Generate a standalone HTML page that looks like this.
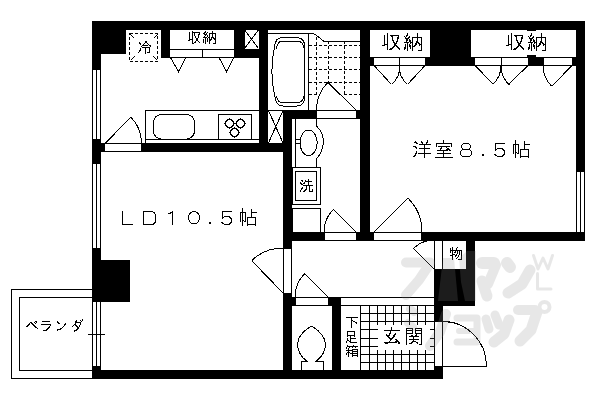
<!DOCTYPE html>
<html><head><meta charset="utf-8"><style>
html,body{margin:0;padding:0;background:#fff;width:600px;height:400px;overflow:hidden}
svg{display:block}
</style></head><body>
<svg width="600" height="400" viewBox="0 0 600 400">
<rect width="600" height="400" fill="#fff"/>
<g shape-rendering="crispEdges" fill="none" stroke="#000" stroke-width="1">
<rect x="92" y="21" width="493" height="9" fill="#000" stroke="none"/>
<rect x="92" y="21" width="34" height="33" fill="#000" stroke="none"/>
<rect x="92" y="21" width="9" height="49" fill="#000" stroke="none"/>
<rect x="161" y="30" width="9" height="28" fill="#000" stroke="none"/>
<rect x="234" y="30" width="10" height="28" fill="#000" stroke="none"/>
<rect x="244" y="49" width="15" height="9" fill="#000" stroke="none"/>
<rect x="259" y="30" width="9" height="121" fill="#000" stroke="none"/>
<rect x="101" y="143" width="4" height="9" fill="#000" stroke="none"/>
<rect x="141" y="143" width="142" height="9" fill="#000" stroke="none"/>
<rect x="92" y="139" width="9" height="25" fill="#000" stroke="none"/>
<rect x="283" y="110" width="34" height="9" fill="#000" stroke="none"/>
<rect x="356" y="110" width="14" height="9" fill="#000" stroke="none"/>
<rect x="283" y="110" width="9" height="139" fill="#000" stroke="none"/>
<rect x="283" y="293" width="9" height="85" fill="#000" stroke="none"/>
<rect x="360" y="30" width="10" height="211" fill="#000" stroke="none"/>
<rect x="292" y="232" width="33" height="9" fill="#000" stroke="none"/>
<rect x="356" y="232" width="18" height="9" fill="#000" stroke="none"/>
<rect x="421" y="232" width="164" height="9" fill="#000" stroke="none"/>
<rect x="576" y="21" width="9" height="151" fill="#000" stroke="none"/>
<rect x="430" y="21" width="41" height="45" fill="#000" stroke="none"/>
<rect x="369" y="57" width="5" height="9" fill="#000" stroke="none"/>
<rect x="425" y="57" width="5" height="9" fill="#000" stroke="none"/>
<rect x="470" y="57" width="4" height="9" fill="#000" stroke="none"/>
<rect x="528" y="57" width="15" height="9" fill="#000" stroke="none"/>
<rect x="572" y="57" width="4" height="9" fill="#000" stroke="none"/>
<rect x="527" y="55" width="9" height="2" fill="#000" stroke="none"/>
<rect x="92" y="248" width="9" height="54" fill="#000" stroke="none"/>
<rect x="92" y="260" width="38" height="42" fill="#000" stroke="none"/>
<rect x="92" y="366" width="9" height="13" fill="#000" stroke="none"/>
<rect x="92" y="370" width="351" height="9" fill="#000" stroke="none"/>
<rect x="292" y="297" width="4" height="9" fill="#000" stroke="none"/>
<rect x="328" y="297" width="13" height="9" fill="#000" stroke="none"/>
<rect x="332" y="305" width="9" height="73" fill="#000" stroke="none"/>
<rect x="466" y="240" width="9" height="66" fill="#000" stroke="none"/>
<rect x="434" y="269" width="41" height="37" fill="#000" stroke="none"/>
<rect x="434" y="306" width="9" height="16" fill="#000" stroke="none"/>
<rect x="434" y="366" width="9" height="12" fill="#000" stroke="none"/>
<rect x="92" y="70" width="1" height="69" fill="#000" stroke="none"/>
<rect x="96" y="70" width="1" height="69" fill="#000" stroke="none"/>
<rect x="100" y="70" width="1" height="69" fill="#000" stroke="none"/>
<rect x="92" y="164" width="1" height="84" fill="#000" stroke="none"/>
<rect x="96" y="164" width="1" height="84" fill="#000" stroke="none"/>
<rect x="100" y="164" width="1" height="84" fill="#000" stroke="none"/>
<rect x="92" y="302" width="1" height="64" fill="#000" stroke="none"/>
<rect x="96" y="302" width="1" height="64" fill="#000" stroke="none"/>
<rect x="100" y="302" width="1" height="64" fill="#000" stroke="none"/>
<rect x="576" y="172" width="1" height="60" fill="#000" stroke="none"/>
<rect x="580" y="172" width="1" height="60" fill="#000" stroke="none"/>
<rect x="584" y="172" width="1" height="60" fill="#000" stroke="none"/>
<rect x="88" y="334" width="17" height="1" fill="#000" stroke="none"/>
<rect x="11" y="289" width="81" height="1" fill="#000" stroke="none"/>
<rect x="11" y="378" width="81" height="1" fill="#000" stroke="none"/>
<rect x="11" y="289" width="1" height="90" fill="#000" stroke="none"/>
<rect x="19" y="297" width="73" height="1" fill="#000" stroke="none"/>
<rect x="19" y="370" width="73" height="1" fill="#000" stroke="none"/>
<rect x="19" y="297" width="1" height="74" fill="#000" stroke="none"/>
<rect x="129.5" y="33.5" width="28" height="27.5" fill="none" stroke-dasharray="3 2"/>
<line x1="130.5" y1="34.5" x2="134.5" y2="38.5"/>
<line x1="157.5" y1="34.5" x2="153.5" y2="38.5"/>
<line x1="130.5" y1="60.5" x2="134.5" y2="56.5"/>
<line x1="157.5" y1="60.5" x2="153.5" y2="56.5"/>
<rect x="170" y="49" width="64" height="1" fill="#000" stroke="none"/>
<rect x="170" y="57" width="64" height="1" fill="#000" stroke="none"/>
<rect x="202" y="49" width="1" height="8" fill="#000" stroke="none"/>
<rect x="244" y="30" width="1" height="19" fill="#000" stroke="none"/>
<line x1="244.5" y1="30" x2="258.5" y2="48.5"/>
<line x1="258.5" y1="30" x2="244.5" y2="48.5"/>
<path d="M170.5 57.5L178.5 71.5L186 57.5"/>
<path d="M219 57.5L226.5 71.5L234 57.5"/>
<rect x="145" y="110" width="115" height="1" fill="#000" stroke="none"/>
<rect x="145" y="139" width="115" height="1" fill="#000" stroke="none"/>
<rect x="145" y="110" width="1" height="33" fill="#000" stroke="none"/>
<rect x="153.5" y="114.5" width="41" height="24.5" rx="8" ry="8" fill="none"/>
<rect x="218.5" y="114.5" width="33" height="24.5" fill="none"/>
<path d="M225.5 122.0L228.0 119.5H231.0L233.5 122.0V125.0L231.0 127.5H228.0L225.5 125.0Z"/>
<line x1="224.0" y1="123.5" x2="225.5" y2="123.5"/>
<line x1="233.5" y1="123.5" x2="235.0" y2="123.5"/>
<line x1="229.5" y1="118.0" x2="229.5" y2="119.5"/>
<line x1="229.5" y1="127.5" x2="229.5" y2="129.0"/>
<path d="M236.5 122.0L239.0 119.5H242.0L244.5 122.0V125.0L242.0 127.5H239.0L236.5 125.0Z"/>
<line x1="235.0" y1="123.5" x2="236.5" y2="123.5"/>
<line x1="244.5" y1="123.5" x2="246.0" y2="123.5"/>
<line x1="240.5" y1="118.0" x2="240.5" y2="119.5"/>
<line x1="240.5" y1="127.5" x2="240.5" y2="129.0"/>
<path d="M230.5 131.0L233.0 128.5H236.0L238.5 131.0V134.0L236.0 136.5H233.0L230.5 134.0Z"/>
<line x1="229.0" y1="132.5" x2="230.5" y2="132.5"/>
<line x1="238.5" y1="132.5" x2="240.0" y2="132.5"/>
<line x1="234.5" y1="127.0" x2="234.5" y2="128.5"/>
<line x1="234.5" y1="136.5" x2="234.5" y2="138.0"/>
<rect x="105" y="143" width="36" height="1" fill="#000" stroke="none"/>
<rect x="105" y="151" width="36" height="1" fill="#000" stroke="none"/>
<line x1="105.5" y1="143" x2="130.5" y2="117.5"/>
<path d="M130.81 117.19A36.5 36.5 0 0 1 141.50 143.00"/>
<rect x="268" y="110" width="15" height="1" fill="#000" stroke="none"/>
<line x1="268.5" y1="110.5" x2="283" y2="143"/>
<line x1="283" y1="110.5" x2="268.5" y2="143"/>
<path d="M268 33.5H312Q315 33.5 318 36.5L324 41.5H360"/>
<rect x="308" y="33" width="1" height="77" fill="#000" stroke="none"/>
<path d="M274.5 47Q275 37.5 283 37.5H297Q304.5 38 304.5 46V97Q304.5 106 297 106H283Q276 106 275 97Q269 72 274.5 47Z"/>
<path d="M276.5 49Q277 41 283 41H297Q303.5 41.5 303.5 48M303.5 96Q303.5 102.5 297 102.5H283Q277 102.5 276.5 96"/>
<path d="M309 45.5H360" stroke-dasharray="3 2"/>
<path d="M309 57.5H360" stroke-dasharray="3 2"/>
<path d="M309 69.5H360" stroke-dasharray="3 2"/>
<path d="M309 82.5H360" stroke-dasharray="3 2"/>
<path d="M309 94.5H317" stroke-dasharray="3 2"/>
<path d="M344 94.5H360" stroke-dasharray="3 2"/>
<path d="M316.5 37V94.5" stroke-dasharray="3 2"/>
<path d="M328.5 41V82.5" stroke-dasharray="3 2"/>
<path d="M344.5 41V94.5" stroke-dasharray="3 2"/>
<line x1="328" y1="82.5" x2="356" y2="110"/>
<path d="M328.07 82.07A39.5 39.5 0 0 0 316.50 110.00"/>
<rect x="316" y="110" width="40" height="1" fill="#000" stroke="none"/>
<rect x="316" y="118" width="40" height="1" fill="#000" stroke="none"/>
<rect x="295" y="118" width="1" height="50" fill="#000" stroke="none"/>
<rect x="316" y="118" width="1" height="8" fill="#000" stroke="none"/>
<rect x="316" y="158" width="1" height="10" fill="#000" stroke="none"/>
<path d="M316.5 126Q325 134 323 145Q322 153 316.5 158.5"/>
<ellipse cx="308.6" cy="142.75" rx="8.6" ry="12.75" fill="none"/>
<rect x="295" y="139" width="5" height="1" fill="#000" stroke="none"/>
<rect x="295" y="143" width="5" height="1" fill="#000" stroke="none"/>
<rect x="316" y="118" width="44" height="1" fill="#000" stroke="none"/>
<rect x="292" y="167" width="29" height="1" fill="#000" stroke="none"/>
<rect x="292" y="204" width="29" height="1" fill="#000" stroke="none"/>
<rect x="292" y="167" width="1" height="38" fill="#000" stroke="none"/>
<rect x="320" y="167" width="1" height="38" fill="#000" stroke="none"/>
<rect x="295" y="171" width="22" height="1" fill="#000" stroke="none"/>
<rect x="295" y="200" width="22" height="1" fill="#000" stroke="none"/>
<rect x="295" y="171" width="1" height="30" fill="#000" stroke="none"/>
<rect x="316" y="171" width="1" height="30" fill="#000" stroke="none"/>
<rect x="292" y="208" width="29" height="1" fill="#000" stroke="none"/>
<rect x="292" y="232" width="29" height="1" fill="#000" stroke="none"/>
<rect x="292" y="208" width="1" height="25" fill="#000" stroke="none"/>
<rect x="320" y="208" width="1" height="25" fill="#000" stroke="none"/>
<rect x="324" y="232" width="32" height="1" fill="#000" stroke="none"/>
<rect x="324" y="240" width="32" height="1" fill="#000" stroke="none"/>
<line x1="356" y1="232" x2="333" y2="209"/>
<path d="M333.37 209.37A32 32 0 0 0 324.00 232.00"/>
<rect x="374" y="232" width="47" height="1" fill="#000" stroke="none"/>
<rect x="374" y="240" width="47" height="1" fill="#000" stroke="none"/>
<line x1="374" y1="232" x2="408" y2="198"/>
<path d="M407.94 198.06A48 48 0 0 1 422.00 232.00"/>
<rect x="369" y="29" width="62" height="1" fill="#000" stroke="none"/>
<rect x="369" y="57" width="62" height="1" fill="#000" stroke="none"/>
<rect x="369" y="29" width="1" height="29" fill="#000" stroke="none"/>
<rect x="430" y="29" width="1" height="29" fill="#000" stroke="none"/>
<rect x="373" y="57" width="53" height="1" fill="#000" stroke="none"/>
<rect x="373" y="65" width="53" height="1" fill="#000" stroke="none"/>
<rect x="373" y="57" width="1" height="9" fill="#000" stroke="none"/>
<rect x="425" y="57" width="1" height="9" fill="#000" stroke="none"/>
<rect x="399" y="57" width="1" height="9" fill="#000" stroke="none"/>
<rect x="470" y="29" width="107" height="1" fill="#000" stroke="none"/>
<rect x="470" y="57" width="107" height="1" fill="#000" stroke="none"/>
<rect x="470" y="29" width="1" height="29" fill="#000" stroke="none"/>
<rect x="576" y="29" width="1" height="29" fill="#000" stroke="none"/>
<rect x="474" y="57" width="55" height="1" fill="#000" stroke="none"/>
<rect x="474" y="65" width="55" height="1" fill="#000" stroke="none"/>
<rect x="474" y="57" width="1" height="9" fill="#000" stroke="none"/>
<rect x="528" y="57" width="1" height="9" fill="#000" stroke="none"/>
<rect x="501" y="57" width="1" height="9" fill="#000" stroke="none"/>
<rect x="543" y="57" width="30" height="1" fill="#000" stroke="none"/>
<rect x="543" y="65" width="30" height="1" fill="#000" stroke="none"/>
<rect x="543" y="57" width="1" height="9" fill="#000" stroke="none"/>
<rect x="572" y="57" width="1" height="9" fill="#000" stroke="none"/>
<line x1="374" y1="65.5" x2="391.5" y2="84.5"/>
<path d="M391.73 84.52A26 26 0 0 0 400.00 65.50"/>
<line x1="425" y1="65.5" x2="407.5" y2="84.5"/>
<path d="M407.27 84.52A26 26 0 0 1 399.00 65.50"/>
<line x1="475" y1="65.5" x2="493.5" y2="84.5"/>
<path d="M492.73 84.52A26 26 0 0 0 501.00 65.50"/>
<line x1="528" y1="65.5" x2="508.5" y2="84.5"/>
<path d="M509.59 85.25A27 27 0 0 1 501.00 65.50"/>
<line x1="572" y1="65.5" x2="552" y2="86"/>
<path d="M551.49 86.01A29 29 0 0 1 543.00 65.50"/>
<rect x="527" y="29" width="9" height="2" fill="#000" stroke="none"/>
<rect x="283" y="249" width="1" height="44" fill="#000" stroke="none"/>
<rect x="291" y="249" width="1" height="44" fill="#000" stroke="none"/>
<line x1="283" y1="293" x2="252" y2="261"/>
<path d="M251.74 260.63A45 45 0 0 1 283.00 248.00"/>
<rect x="442" y="240" width="25" height="1" fill="#000" stroke="none"/>
<rect x="442" y="269" width="25" height="1" fill="#000" stroke="none"/>
<rect x="442" y="240" width="1" height="30" fill="#000" stroke="none"/>
<rect x="466" y="240" width="1" height="30" fill="#000" stroke="none"/>
<rect x="434" y="240" width="1" height="29" fill="#000" stroke="none"/>
<line x1="434" y1="269" x2="413.5" y2="248.5"/>
<path d="M413.49 248.49A29 29 0 0 1 428.96 240.44"/>
<rect x="296" y="297" width="32" height="1" fill="#000" stroke="none"/>
<rect x="296" y="305" width="32" height="1" fill="#000" stroke="none"/>
<line x1="328" y1="297" x2="305" y2="274"/>
<path d="M304.67 273.67A33 33 0 0 0 295.00 297.00"/>
<path d="M311.5 326Q298 334 297.5 344Q297.5 354 306.5 361H301.5V370M311.5 326Q325 334 325.5 344Q325.5 354 316.5 361H323.5V370"/>
<rect x="341" y="297" width="93" height="1" fill="#000" stroke="none"/>
<rect x="341" y="305" width="93" height="1" fill="#000" stroke="none"/>
<rect x="360" y="305" width="1" height="65" fill="#000" stroke="none"/>
<rect x="434" y="321" width="1" height="45" fill="#000" stroke="none"/>
<rect x="442" y="321" width="1" height="45" fill="#000" stroke="none"/>
<rect x="443" y="366" width="44" height="1" fill="#000" stroke="none"/>
<path d="M443 321.5A43.5 44.5 0 0 1 486.5 366"/>
<rect x="360" y="305" width="74" height="1" fill="#000" stroke="none"/>
<rect x="369" y="305" width="1" height="65" fill="#000" stroke="none"/>
<rect x="377" y="305" width="1" height="20" fill="#000" stroke="none"/>
<rect x="377" y="350" width="1" height="20" fill="#000" stroke="none"/>
<rect x="385" y="305" width="1" height="20" fill="#000" stroke="none"/>
<rect x="385" y="350" width="1" height="20" fill="#000" stroke="none"/>
<rect x="393" y="305" width="1" height="20" fill="#000" stroke="none"/>
<rect x="393" y="350" width="1" height="20" fill="#000" stroke="none"/>
<rect x="401" y="305" width="1" height="20" fill="#000" stroke="none"/>
<rect x="401" y="350" width="1" height="20" fill="#000" stroke="none"/>
<rect x="409" y="305" width="1" height="20" fill="#000" stroke="none"/>
<rect x="409" y="350" width="1" height="20" fill="#000" stroke="none"/>
<rect x="417" y="305" width="1" height="20" fill="#000" stroke="none"/>
<rect x="417" y="350" width="1" height="20" fill="#000" stroke="none"/>
<rect x="425" y="305" width="1" height="20" fill="#000" stroke="none"/>
<rect x="425" y="350" width="1" height="20" fill="#000" stroke="none"/>
<rect x="360" y="313" width="74" height="1" fill="#000" stroke="none"/>
<rect x="360" y="321" width="74" height="1" fill="#000" stroke="none"/>
<rect x="360" y="329" width="18" height="1" fill="#000" stroke="none"/>
<rect x="430" y="329" width="4" height="1" fill="#000" stroke="none"/>
<rect x="360" y="338" width="18" height="1" fill="#000" stroke="none"/>
<rect x="430" y="338" width="4" height="1" fill="#000" stroke="none"/>
<rect x="360" y="346" width="18" height="1" fill="#000" stroke="none"/>
<rect x="430" y="346" width="4" height="1" fill="#000" stroke="none"/>
<rect x="360" y="354" width="74" height="1" fill="#000" stroke="none"/>
<rect x="360" y="362" width="74" height="1" fill="#000" stroke="none"/>
<rect x="122" y="211" width="1" height="14" fill="#000" stroke="none"/>
<rect x="122" y="224" width="11" height="1" fill="#000" stroke="none"/>
<path d="M143.5 211.5V224.5H151Q155.5 224.5 155.5 220V216Q155.5 211.5 151 211.5Z"/>
<rect x="172" y="211" width="1" height="14" fill="#000" stroke="none"/>
<path d="M167.5 213.5H170L172.5 211.5"/>
<ellipse cx="194" cy="217.75" rx="5.5" ry="6.3" fill="none"/>
<rect x="209" y="222" width="2" height="2" fill="#000" stroke="none"/>
<path d="M232 211.5H222.5V218Q224 216.5 227 216.5Q231.5 216.5 231.5 220.5Q231.5 224.5 227 224.5Q223 224.5 221.5 222"/>
<rect x="461.5" y="143.5" width="9" height="6" rx="3.5" ry="3" fill="none"/>
<rect x="460.5" y="149.5" width="11" height="7" rx="4" ry="3.5" fill="none"/>
<rect x="482" y="154" width="2" height="2" fill="#000" stroke="none"/>
<path d="M505 143.5H495.5V150Q497 148.5 500 148.5Q504.5 148.5 504.5 152.5Q504.5 156.5 500 156.5Q496 156.5 494.5 154"/>
</g>
<path fill="#000" shape-rendering="crispEdges" d="M145 41h2v1h-2zM139 42h1v1h-1zM145 42h2v1h-2zM139 43h2v1h-2zM144 43h1v1h-1zM147 43h1v1h-1zM140 44h1v1h-1zM143 44h1v1h-1zM148 44h1v1h-1zM142 45h6v1h-6zM149 45h2v1h-2zM141 46h1v1h-1zM150 46h1v1h-1zM142 47h8v1h-8zM140 48h1v1h-1zM145 48h1v1h-1zM149 48h1v1h-1zM140 49h1v1h-1zM145 49h1v1h-1zM149 49h1v1h-1zM139 50h2v1h-2zM145 50h1v1h-1zM149 50h1v1h-1zM139 51h1v1h-1zM145 51h1v1h-1zM149 51h1v1h-1zM138 52h1v1h-1zM145 52h1v1h-1zM147 52h3v1h-3zM145 53h1v1h-1zM192 31h1v1h-1zM189 32h1v1h-1zM192 32h8v1h-8zM189 33h1v1h-1zM192 33h1v1h-1zM194 33h1v1h-1zM199 33h1v1h-1zM189 34h1v1h-1zM192 34h1v1h-1zM194 34h1v1h-1zM198 34h2v1h-2zM189 35h1v1h-1zM192 35h1v1h-1zM194 35h1v1h-1zM198 35h1v1h-1zM189 36h1v1h-1zM192 36h1v1h-1zM195 36h1v1h-1zM198 36h1v1h-1zM189 37h1v1h-1zM192 37h1v1h-1zM195 37h1v1h-1zM198 37h1v1h-1zM189 38h1v1h-1zM192 38h1v1h-1zM196 38h2v1h-2zM189 39h4v1h-4zM196 39h2v1h-2zM188 40h2v1h-2zM192 40h1v1h-1zM196 40h2v1h-2zM192 41h1v1h-1zM195 41h1v1h-1zM198 41h1v1h-1zM192 42h1v1h-1zM194 42h2v1h-2zM199 42h1v1h-1zM192 43h2v1h-2zM205 31h1v1h-1zM212 31h1v1h-1zM204 32h2v1h-2zM207 32h1v1h-1zM212 32h1v1h-1zM203 33h2v1h-2zM206 33h1v1h-1zM209 33h7v1h-7zM204 34h3v1h-3zM209 34h1v1h-1zM212 34h1v1h-1zM215 34h1v1h-1zM205 35h1v1h-1zM207 35h1v1h-1zM209 35h1v1h-1zM212 35h1v1h-1zM215 35h1v1h-1zM204 36h1v1h-1zM207 36h1v1h-1zM209 36h1v1h-1zM212 36h1v1h-1zM215 36h1v1h-1zM203 37h4v1h-4zM208 37h2v1h-2zM211 37h3v1h-3zM215 37h1v1h-1zM205 38h1v1h-1zM207 38h1v1h-1zM209 38h1v1h-1zM211 38h1v1h-1zM213 38h3v1h-3zM203 39h1v1h-1zM205 39h1v1h-1zM207 39h1v1h-1zM209 39h3v1h-3zM214 39h2v1h-2zM203 40h1v1h-1zM205 40h1v1h-1zM207 40h1v1h-1zM209 40h2v1h-2zM215 40h1v1h-1zM203 41h1v1h-1zM205 41h1v1h-1zM207 41h1v1h-1zM209 41h1v1h-1zM215 41h1v1h-1zM203 42h1v1h-1zM205 42h1v1h-1zM209 42h1v1h-1zM215 42h1v1h-1zM205 43h1v1h-1zM209 43h1v1h-1zM213 43h3v1h-3zM387 33h1v1h-1zM387 34h1v1h-1zM384 35h1v1h-1zM387 35h1v1h-1zM390 35h9v1h-9zM384 36h1v1h-1zM387 36h1v1h-1zM391 36h2v1h-2zM398 36h1v1h-1zM384 37h1v1h-1zM387 37h1v1h-1zM392 37h1v1h-1zM397 37h2v1h-2zM384 38h1v1h-1zM387 38h1v1h-1zM392 38h1v1h-1zM397 38h2v1h-2zM384 39h1v1h-1zM387 39h1v1h-1zM392 39h1v1h-1zM397 39h1v1h-1zM384 40h1v1h-1zM387 40h1v1h-1zM392 40h2v1h-2zM397 40h1v1h-1zM384 41h1v1h-1zM387 41h1v1h-1zM393 41h1v1h-1zM396 41h2v1h-2zM384 42h1v1h-1zM387 42h1v1h-1zM393 42h2v1h-2zM396 42h1v1h-1zM384 43h1v1h-1zM387 43h1v1h-1zM394 43h3v1h-3zM384 44h4v1h-4zM394 44h2v1h-2zM382 45h3v1h-3zM387 45h1v1h-1zM394 45h3v1h-3zM387 46h1v1h-1zM393 46h2v1h-2zM396 46h2v1h-2zM387 47h1v1h-1zM392 47h2v1h-2zM397 47h2v1h-2zM387 48h1v1h-1zM390 48h3v1h-3zM398 48h2v1h-2zM387 49h1v1h-1zM389 49h3v1h-3zM399 49h1v1h-1zM407 33h1v1h-1zM417 33h1v1h-1zM407 34h1v1h-1zM417 34h1v1h-1zM406 35h2v1h-2zM417 35h1v1h-1zM404 36h1v1h-1zM406 36h1v1h-1zM409 36h1v1h-1zM417 36h1v1h-1zM405 37h1v1h-1zM408 37h2v1h-2zM412 37h10v1h-10zM405 38h4v1h-4zM412 38h1v1h-1zM417 38h1v1h-1zM421 38h1v1h-1zM406 39h2v1h-2zM409 39h1v1h-1zM412 39h1v1h-1zM417 39h1v1h-1zM421 39h1v1h-1zM406 40h2v1h-2zM409 40h2v1h-2zM412 40h1v1h-1zM417 40h1v1h-1zM421 40h1v1h-1zM406 41h1v1h-1zM409 41h2v1h-2zM412 41h1v1h-1zM416 41h2v1h-2zM421 41h1v1h-1zM404 42h5v1h-5zM410 42h3v1h-3zM416 42h3v1h-3zM421 42h1v1h-1zM407 43h1v1h-1zM410 43h1v1h-1zM412 43h1v1h-1zM415 43h2v1h-2zM418 43h2v1h-2zM421 43h1v1h-1zM405 44h1v1h-1zM407 44h1v1h-1zM409 44h1v1h-1zM412 44h1v1h-1zM415 44h2v1h-2zM419 44h3v1h-3zM405 45h1v1h-1zM407 45h1v1h-1zM409 45h2v1h-2zM412 45h1v1h-1zM414 45h2v1h-2zM419 45h1v1h-1zM421 45h1v1h-1zM405 46h1v1h-1zM407 46h1v1h-1zM409 46h2v1h-2zM412 46h3v1h-3zM421 46h1v1h-1zM404 47h2v1h-2zM407 47h1v1h-1zM410 47h1v1h-1zM412 47h1v1h-1zM421 47h1v1h-1zM404 48h2v1h-2zM407 48h1v1h-1zM410 48h1v1h-1zM412 48h1v1h-1zM421 48h1v1h-1zM404 49h1v1h-1zM407 49h1v1h-1zM412 49h1v1h-1zM421 49h1v1h-1zM407 50h1v1h-1zM412 50h1v1h-1zM418 50h4v1h-4zM511 33h1v1h-1zM511 34h1v1h-1zM508 35h1v1h-1zM511 35h1v1h-1zM514 35h9v1h-9zM508 36h1v1h-1zM511 36h1v1h-1zM515 36h2v1h-2zM522 36h1v1h-1zM508 37h1v1h-1zM511 37h1v1h-1zM516 37h1v1h-1zM521 37h2v1h-2zM508 38h1v1h-1zM511 38h1v1h-1zM516 38h1v1h-1zM521 38h2v1h-2zM508 39h1v1h-1zM511 39h1v1h-1zM516 39h1v1h-1zM521 39h1v1h-1zM508 40h1v1h-1zM511 40h1v1h-1zM516 40h2v1h-2zM521 40h1v1h-1zM508 41h1v1h-1zM511 41h1v1h-1zM517 41h1v1h-1zM520 41h2v1h-2zM508 42h1v1h-1zM511 42h1v1h-1zM517 42h2v1h-2zM520 42h1v1h-1zM508 43h1v1h-1zM511 43h1v1h-1zM518 43h3v1h-3zM508 44h4v1h-4zM518 44h2v1h-2zM506 45h3v1h-3zM511 45h1v1h-1zM518 45h3v1h-3zM511 46h1v1h-1zM517 46h2v1h-2zM520 46h2v1h-2zM511 47h1v1h-1zM516 47h2v1h-2zM521 47h2v1h-2zM511 48h1v1h-1zM514 48h3v1h-3zM522 48h2v1h-2zM511 49h1v1h-1zM513 49h3v1h-3zM523 49h1v1h-1zM531 33h1v1h-1zM541 33h1v1h-1zM531 34h1v1h-1zM541 34h1v1h-1zM530 35h2v1h-2zM541 35h1v1h-1zM528 36h1v1h-1zM530 36h1v1h-1zM533 36h1v1h-1zM541 36h1v1h-1zM529 37h1v1h-1zM532 37h2v1h-2zM536 37h10v1h-10zM529 38h4v1h-4zM536 38h1v1h-1zM541 38h1v1h-1zM545 38h1v1h-1zM530 39h2v1h-2zM533 39h1v1h-1zM536 39h1v1h-1zM541 39h1v1h-1zM545 39h1v1h-1zM530 40h2v1h-2zM533 40h2v1h-2zM536 40h1v1h-1zM541 40h1v1h-1zM545 40h1v1h-1zM530 41h1v1h-1zM533 41h2v1h-2zM536 41h1v1h-1zM540 41h2v1h-2zM545 41h1v1h-1zM528 42h5v1h-5zM534 42h3v1h-3zM540 42h3v1h-3zM545 42h1v1h-1zM531 43h1v1h-1zM534 43h1v1h-1zM536 43h1v1h-1zM539 43h2v1h-2zM542 43h2v1h-2zM545 43h1v1h-1zM529 44h1v1h-1zM531 44h1v1h-1zM533 44h1v1h-1zM536 44h1v1h-1zM539 44h2v1h-2zM543 44h3v1h-3zM529 45h1v1h-1zM531 45h1v1h-1zM533 45h2v1h-2zM536 45h1v1h-1zM538 45h2v1h-2zM543 45h1v1h-1zM545 45h1v1h-1zM529 46h1v1h-1zM531 46h1v1h-1zM533 46h2v1h-2zM536 46h3v1h-3zM545 46h1v1h-1zM528 47h2v1h-2zM531 47h1v1h-1zM534 47h1v1h-1zM536 47h1v1h-1zM545 47h1v1h-1zM528 48h2v1h-2zM531 48h1v1h-1zM534 48h1v1h-1zM536 48h1v1h-1zM545 48h1v1h-1zM528 49h1v1h-1zM531 49h1v1h-1zM536 49h1v1h-1zM545 49h1v1h-1zM531 50h1v1h-1zM536 50h1v1h-1zM542 50h4v1h-4zM308 179h1v1h-1zM301 180h2v1h-2zM305 180h1v1h-1zM308 180h1v1h-1zM302 181h1v1h-1zM305 181h7v1h-7zM300 182h1v1h-1zM304 182h1v1h-1zM308 182h1v1h-1zM300 183h2v1h-2zM303 183h2v1h-2zM308 183h1v1h-1zM301 184h2v1h-2zM308 184h1v1h-1zM303 185h10v1h-10zM306 186h1v1h-1zM309 186h1v1h-1zM302 187h1v1h-1zM306 187h1v1h-1zM309 187h1v1h-1zM301 188h2v1h-2zM306 188h1v1h-1zM309 188h1v1h-1zM301 189h1v1h-1zM305 189h2v1h-2zM309 189h1v1h-1zM312 189h1v1h-1zM300 190h1v1h-1zM304 190h2v1h-2zM309 190h1v1h-1zM312 190h1v1h-1zM300 191h1v1h-1zM303 191h2v1h-2zM309 191h4v1h-4zM427 140h1v1h-1zM415 141h1v1h-1zM421 141h1v1h-1zM427 141h1v1h-1zM414 142h3v1h-3zM421 142h2v1h-2zM426 142h2v1h-2zM416 143h2v1h-2zM422 143h1v1h-1zM426 143h1v1h-1zM419 144h12v1h-12zM424 145h1v1h-1zM413 146h3v1h-3zM424 146h1v1h-1zM415 147h2v1h-2zM424 147h1v1h-1zM416 148h1v1h-1zM419 148h11v1h-11zM424 149h1v1h-1zM424 150h1v1h-1zM416 151h1v1h-1zM424 151h1v1h-1zM416 152h1v1h-1zM424 152h1v1h-1zM415 153h2v1h-2zM418 153h13v1h-13zM415 154h1v1h-1zM424 154h1v1h-1zM414 155h2v1h-2zM424 155h1v1h-1zM413 156h2v1h-2zM424 156h1v1h-1zM424 157h1v1h-1zM443 140h1v1h-1zM443 141h1v1h-1zM443 142h1v1h-1zM436 143h16v1h-16zM436 144h1v1h-1zM451 144h1v1h-1zM436 145h1v1h-1zM451 145h1v1h-1zM436 146h1v1h-1zM438 146h12v1h-12zM451 146h1v1h-1zM441 147h1v1h-1zM446 147h1v1h-1zM440 148h2v1h-2zM447 148h2v1h-2zM440 149h1v1h-1zM446 149h4v1h-4zM437 150h11v1h-11zM449 150h2v1h-2zM443 151h1v1h-1zM443 152h1v1h-1zM437 153h14v1h-14zM443 154h1v1h-1zM443 155h1v1h-1zM443 156h1v1h-1zM435 157h18v1h-18zM515 140h1v1h-1zM515 141h1v1h-1zM524 141h1v1h-1zM515 142h1v1h-1zM524 142h1v1h-1zM515 143h1v1h-1zM524 143h1v1h-1zM513 144h6v1h-6zM524 144h6v1h-6zM513 145h1v1h-1zM515 145h1v1h-1zM518 145h1v1h-1zM524 145h1v1h-1zM513 146h1v1h-1zM515 146h1v1h-1zM518 146h1v1h-1zM524 146h1v1h-1zM513 147h1v1h-1zM515 147h1v1h-1zM518 147h1v1h-1zM524 147h1v1h-1zM513 148h1v1h-1zM515 148h1v1h-1zM518 148h1v1h-1zM524 148h1v1h-1zM513 149h1v1h-1zM515 149h1v1h-1zM518 149h1v1h-1zM520 149h9v1h-9zM513 150h1v1h-1zM515 150h1v1h-1zM518 150h1v1h-1zM520 150h1v1h-1zM528 150h1v1h-1zM513 151h1v1h-1zM515 151h1v1h-1zM518 151h1v1h-1zM520 151h1v1h-1zM528 151h1v1h-1zM513 152h1v1h-1zM515 152h2v1h-2zM518 152h1v1h-1zM520 152h1v1h-1zM528 152h1v1h-1zM513 153h1v1h-1zM515 153h1v1h-1zM517 153h2v1h-2zM520 153h1v1h-1zM528 153h1v1h-1zM515 154h1v1h-1zM520 154h1v1h-1zM528 154h1v1h-1zM515 155h1v1h-1zM520 155h1v1h-1zM528 155h1v1h-1zM515 156h1v1h-1zM520 156h9v1h-9zM515 157h1v1h-1zM520 157h1v1h-1zM528 157h1v1h-1zM242 208h1v1h-1zM242 209h1v1h-1zM251 209h1v1h-1zM242 210h1v1h-1zM251 210h1v1h-1zM242 211h1v1h-1zM251 211h1v1h-1zM240 212h6v1h-6zM251 212h6v1h-6zM240 213h1v1h-1zM242 213h1v1h-1zM245 213h1v1h-1zM251 213h1v1h-1zM240 214h1v1h-1zM242 214h1v1h-1zM245 214h1v1h-1zM251 214h1v1h-1zM240 215h1v1h-1zM242 215h1v1h-1zM245 215h1v1h-1zM251 215h1v1h-1zM240 216h1v1h-1zM242 216h1v1h-1zM245 216h1v1h-1zM251 216h1v1h-1zM240 217h1v1h-1zM242 217h1v1h-1zM245 217h1v1h-1zM247 217h9v1h-9zM240 218h1v1h-1zM242 218h1v1h-1zM245 218h1v1h-1zM247 218h1v1h-1zM255 218h1v1h-1zM240 219h1v1h-1zM242 219h1v1h-1zM245 219h1v1h-1zM247 219h1v1h-1zM255 219h1v1h-1zM240 220h1v1h-1zM242 220h2v1h-2zM245 220h1v1h-1zM247 220h1v1h-1zM255 220h1v1h-1zM240 221h1v1h-1zM242 221h1v1h-1zM244 221h2v1h-2zM247 221h1v1h-1zM255 221h1v1h-1zM242 222h1v1h-1zM247 222h1v1h-1zM255 222h1v1h-1zM242 223h1v1h-1zM247 223h1v1h-1zM255 223h1v1h-1zM242 224h1v1h-1zM247 224h9v1h-9zM242 225h1v1h-1zM247 225h1v1h-1zM255 225h1v1h-1zM452 247h1v1h-1zM457 247h1v1h-1zM450 248h1v1h-1zM452 248h1v1h-1zM456 248h1v1h-1zM450 249h1v1h-1zM452 249h1v1h-1zM456 249h1v1h-1zM450 250h12v1h-12zM450 251h1v1h-1zM452 251h1v1h-1zM455 251h1v1h-1zM457 251h1v1h-1zM459 251h1v1h-1zM461 251h1v1h-1zM450 252h1v1h-1zM452 252h1v1h-1zM454 252h2v1h-2zM457 252h1v1h-1zM459 252h1v1h-1zM461 252h1v1h-1zM452 253h1v1h-1zM457 253h1v1h-1zM459 253h1v1h-1zM461 253h1v1h-1zM452 254h3v1h-3zM456 254h1v1h-1zM459 254h1v1h-1zM461 254h1v1h-1zM450 255h3v1h-3zM455 255h2v1h-2zM458 255h1v1h-1zM461 255h1v1h-1zM452 256h1v1h-1zM455 256h1v1h-1zM458 256h1v1h-1zM461 256h1v1h-1zM452 257h1v1h-1zM457 257h1v1h-1zM461 257h1v1h-1zM452 258h1v1h-1zM456 258h1v1h-1zM461 258h1v1h-1zM452 259h1v1h-1zM458 259h4v1h-4zM35 321h2v1h-2zM30 322h2v1h-2zM34 322h1v1h-1zM36 322h1v1h-1zM29 323h1v1h-1zM31 323h2v1h-2zM35 323h1v1h-1zM28 324h2v1h-2zM32 324h2v1h-2zM27 325h2v1h-2zM33 325h2v1h-2zM26 326h2v1h-2zM34 326h2v1h-2zM35 327h2v1h-2zM37 328h1v1h-1zM42 321h8v1h-8zM41 324h10v1h-10zM50 325h1v1h-1zM49 326h1v1h-1zM48 327h2v1h-2zM47 328h2v1h-2zM46 329h2v1h-2zM43 330h4v1h-4zM57 321h1v1h-1zM57 322h2v1h-2zM58 323h2v1h-2zM65 323h1v1h-1zM64 324h2v1h-2zM64 325h1v1h-1zM63 326h1v1h-1zM62 327h1v1h-1zM60 328h2v1h-2zM57 329h4v1h-4zM57 330h1v1h-1zM82 319h1v1h-1zM76 320h1v1h-1zM80 320h1v1h-1zM82 320h1v1h-1zM75 321h2v1h-2zM81 321h1v1h-1zM75 322h6v1h-6zM75 323h1v1h-1zM80 323h1v1h-1zM74 324h2v1h-2zM80 324h1v1h-1zM73 325h1v1h-1zM75 325h2v1h-2zM79 325h1v1h-1zM72 326h1v1h-1zM76 326h2v1h-2zM79 326h1v1h-1zM77 327h2v1h-2zM77 328h2v1h-2zM76 329h2v1h-2zM74 330h3v1h-3zM74 331h1v1h-1zM346 317h12v1h-12zM351 318h1v1h-1zM351 319h1v1h-1zM351 320h2v1h-2zM351 321h1v1h-1zM353 321h2v1h-2zM351 322h1v1h-1zM355 322h2v1h-2zM351 323h1v1h-1zM356 323h1v1h-1zM351 324h1v1h-1zM351 325h1v1h-1zM351 326h1v1h-1zM351 327h1v1h-1zM347 331h8v1h-8zM347 332h1v1h-1zM354 332h1v1h-1zM347 333h1v1h-1zM354 333h1v1h-1zM347 334h1v1h-1zM354 334h1v1h-1zM347 335h8v1h-8zM347 336h1v1h-1zM350 336h1v1h-1zM354 336h1v1h-1zM350 337h1v1h-1zM347 338h1v1h-1zM350 338h6v1h-6zM347 339h1v1h-1zM350 339h1v1h-1zM347 340h2v1h-2zM350 340h1v1h-1zM346 341h1v1h-1zM349 341h2v1h-2zM346 342h1v1h-1zM350 342h7v1h-7zM347 345h1v1h-1zM353 345h1v1h-1zM347 346h11v1h-11zM346 347h1v1h-1zM349 347h1v1h-1zM352 347h1v1h-1zM355 347h1v1h-1zM346 348h1v1h-1zM348 348h1v1h-1zM348 349h1v1h-1zM352 349h6v1h-6zM346 350h7v1h-7zM357 350h1v1h-1zM348 351h1v1h-1zM352 351h6v1h-6zM347 352h3v1h-3zM352 352h1v1h-1zM357 352h1v1h-1zM346 353h1v1h-1zM348 353h1v1h-1zM350 353h8v1h-8zM346 354h1v1h-1zM348 354h1v1h-1zM352 354h1v1h-1zM357 354h1v1h-1zM348 355h1v1h-1zM352 355h6v1h-6zM348 356h1v1h-1zM352 356h1v1h-1zM357 356h1v1h-1zM391 327h1v1h-1zM391 328h1v1h-1zM391 329h1v1h-1zM384 330h16v1h-16zM390 331h1v1h-1zM390 332h1v1h-1zM389 333h2v1h-2zM395 333h1v1h-1zM386 334h1v1h-1zM389 334h1v1h-1zM394 334h2v1h-2zM386 335h4v1h-4zM393 335h2v1h-2zM387 336h2v1h-2zM393 336h2v1h-2zM388 337h2v1h-2zM392 337h2v1h-2zM389 338h4v1h-4zM390 339h2v1h-2zM395 339h2v1h-2zM390 340h1v1h-1zM396 340h2v1h-2zM389 341h1v1h-1zM395 341h4v1h-4zM384 342h13v1h-13zM398 342h2v1h-2zM385 343h3v1h-3zM398 343h2v1h-2zM406 328h7v1h-7zM415 328h7v1h-7zM406 329h1v1h-1zM412 329h1v1h-1zM415 329h1v1h-1zM421 329h1v1h-1zM406 330h7v1h-7zM415 330h7v1h-7zM406 331h1v1h-1zM412 331h1v1h-1zM415 331h1v1h-1zM421 331h1v1h-1zM406 332h1v1h-1zM412 332h1v1h-1zM415 332h1v1h-1zM421 332h1v1h-1zM406 333h7v1h-7zM415 333h7v1h-7zM406 334h1v1h-1zM416 334h1v1h-1zM421 334h1v1h-1zM406 335h1v1h-1zM411 335h2v1h-2zM415 335h2v1h-2zM421 335h1v1h-1zM406 336h1v1h-1zM409 336h10v1h-10zM421 336h1v1h-1zM406 337h1v1h-1zM413 337h1v1h-1zM421 337h1v1h-1zM406 338h1v1h-1zM413 338h1v1h-1zM421 338h1v1h-1zM406 339h1v1h-1zM409 339h10v1h-10zM421 339h1v1h-1zM406 340h1v1h-1zM413 340h1v1h-1zM421 340h1v1h-1zM406 341h1v1h-1zM412 341h4v1h-4zM421 341h1v1h-1zM406 342h1v1h-1zM411 342h2v1h-2zM416 342h2v1h-2zM421 342h1v1h-1zM406 343h1v1h-1zM409 343h3v1h-3zM417 343h1v1h-1zM421 343h1v1h-1zM406 344h1v1h-1zM419 344h3v1h-3z"/>
<g opacity="0.2" fill="none" stroke="#8c8c8c" stroke-linecap="round" stroke-linejoin="round"><path d="M406 262.5 L430 262.5" stroke-width="10"/><path d="M429 265 L419 280 L406 295" stroke-width="10"/><path d="M443 258 L454 258 L458 301 L438 301Z" fill="#8c8c8c" stroke="none"/><path d="M459 258 L467 251 L476 251 L476 301 L465 301 L461 282Z" fill="#8c8c8c" stroke="none"/><path d="M482 263 L494 263" stroke-width="12"/><path d="M496 265 L488 284" stroke-width="10"/><path d="M482 281 L487 296" stroke-width="11"/><path d="M507 263 L510 267" stroke-width="12"/><path d="M508 293 L522 284 L530 270" stroke-width="11"/><path d="M533.5 255.5 L538 269 L543 258 L548 269 L552.5 255.5" stroke-width="3"/><path d="M537.5 273.5 L537.5 289 L551 289" stroke-width="3"/><path d="M410 309 L414 312" stroke-width="8"/><path d="M408 323 L413 327" stroke-width="8"/><path d="M446 314 L440 332 L430 346" stroke-width="10"/><path d="M457 318 L477 318 L477 342 L457 342" stroke-width="7"/><path d="M459 331 L475 331" stroke-width="6"/><path d="M486 319 L489 329" stroke-width="9"/><path d="M495 315 L499 325" stroke-width="9"/><path d="M509 320 L504 334 L494 342" stroke-width="11"/><path d="M518 310 L535 310" stroke-width="10"/><path d="M537 312 L531 330 L520 341" stroke-width="11"/><circle cx="544.5" cy="307" r="5" stroke-width="4"/></g>
</svg>
</body></html>
